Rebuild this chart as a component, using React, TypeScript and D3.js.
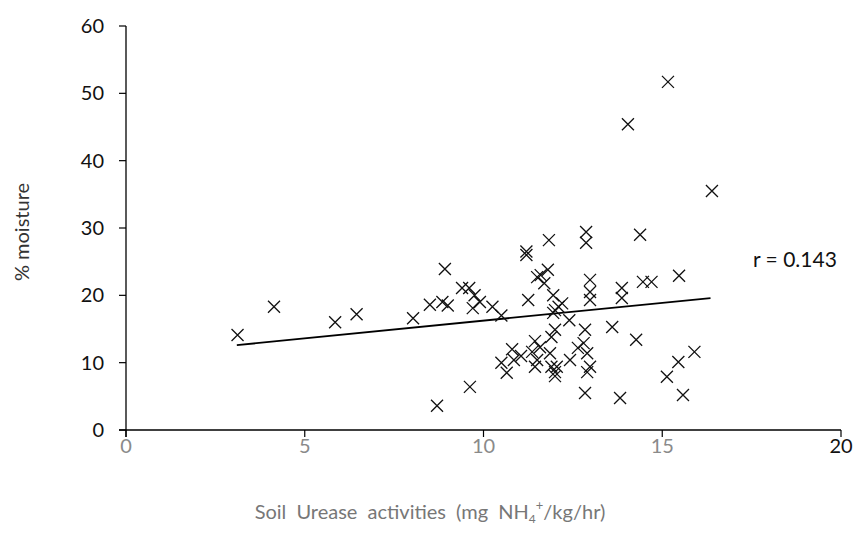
import React from "react";
import * as d3 from "d3";

const pointsX = [3.12, 4.14, 5.85, 6.45, 8.03, 8.5, 8.85, 9.0, 8.92, 9.4, 9.6, 9.75, 9.7, 9.9, 10.25, 10.5, 8.7, 9.62, 10.8, 10.5, 10.65, 10.85, 11.05, 11.2, 11.2, 11.25, 11.44, 11.58, 11.36, 11.5, 11.44, 11.86, 11.9, 12.0, 11.9, 12.0, 11.83, 11.6, 11.8, 11.7, 11.95, 12.0, 12.1, 12.4, 11.95, 12.87, 12.87, 12.98, 12.98, 12.98, 13.87, 13.87, 12.84, 13.6, 12.8, 12.64, 12.9, 12.42, 12.98, 12.9, 12.05, 12.0, 12.84, 13.82, 14.38, 14.46, 14.7, 15.47, 14.27, 15.9, 15.45, 15.13, 15.58, 15.16, 14.04, 16.39, 11.5, 12.2];
const pointsY = [14.1, 18.3, 16.0, 17.2, 16.6, 18.6, 19.0, 18.5, 23.9, 21.1, 21.1, 20.0, 18.1, 19.0, 18.3, 17.0, 3.6, 6.4, 12.0, 10.0, 8.5, 10.4, 11.0, 26.0, 26.5, 19.3, 13.2, 12.3, 11.6, 10.4, 9.4, 11.4, 13.8, 8.6, 9.4, 14.9, 28.2, 23.0, 23.8, 21.8, 20.0, 17.8, 18.3, 16.3, 17.4, 29.4, 27.8, 22.3, 20.5, 19.3, 21.1, 19.6, 14.9, 15.3, 12.9, 12.2, 11.4, 10.4, 9.4, 8.6, 9.4, 8.0, 5.5, 4.75, 29.0, 22.0, 22.0, 22.9, 13.4, 11.6, 10.1, 7.9, 5.2, 51.7, 45.4, 35.5, 22.7, 18.8];

const trendX = [3.1, 16.35];
const trendY = [12.6, 19.6];

const xTicks = [0, 5, 10, 15, 20];
const yTicks = [0, 10, 20, 30, 40, 50, 60];
const rLabel = "r = 0.143";

export default function App() {
  const W = 859, H = 545;
  const x = d3.scaleLinear().domain([0, 20]).range([126, 841]);
  const y = d3.scaleLinear().domain([0, 60]).range([430, 26]);
  const line = d3.line<number>().x((_, i) => x(trendX[i])).y((_, i) => y(trendY[i]));
  const font = "Lato, 'Open Sans', sans-serif";
  const s = 6;
  return (
    <svg width={W} height={H} style={{ position: "absolute", left: 0, top: 0, background: "#fff" }} fontFamily={font}>
      <rect x={0} y={0} width={W} height={H} fill="#fff" />
      <line x1={x(0)} x2={x(0)} y1={y(60)} y2={y(0) + 7} stroke="#000" strokeWidth={1.3} />
      <line x1={x(0) - 7} x2={x(20)} y1={y(0)} y2={y(0)} stroke="#000" strokeWidth={1.3} />
      {yTicks.map((t) => (
        <g key={"y" + t}>
          <line x1={x(0) - 7} x2={x(0)} y1={y(t)} y2={y(t)} stroke="#000" strokeWidth={1.2} />
          <text x={104} y={y(t)} dy="0.35em" textAnchor="end" fontSize={20} fill="#111">{t}</text>
        </g>
      ))}
      {xTicks.map((t) => (
        <g key={"x" + t}>
          <line x1={x(t)} x2={x(t)} y1={y(0)} y2={y(0) + 7} stroke="#000" strokeWidth={1.2} />
          <text x={x(t)} y={453} textAnchor="middle" fontSize={20} fill={t === 20 ? "#111" : "#8a8a8a"}>{t}</text>
        </g>
      ))}
      <path d={line(trendX) || ""} fill="none" stroke="#000" strokeWidth={1.8} />
      {pointsX.map((px, i) => {
        const cx = x(px), cy = y(pointsY[i]);
        return (
          <path key={i} d={`M${cx - s},${cy - s}L${cx + s},${cy + s}M${cx - s},${cy + s}L${cx + s},${cy - s}`} stroke="#111" strokeWidth={1.3} fill="none" />
        );
      })}
      <text x={753} y={260} dy="0.35em" fontSize={21} fill="#111">{rLabel}</text>
      <text x={430} y={519} textAnchor="middle" fontSize={20} fill="#777" wordSpacing={5}>
        Soil Urease activities (mg NH<tspan fontSize={12} dy={4}>4</tspan><tspan fontSize={13} dy={-13}>+</tspan><tspan dy={9}>/kg/hr)</tspan>
      </text>
      <text transform={`translate(29,232) rotate(-90)`} textAnchor="middle" fontSize={20} fill="#333">% moisture</text>
    </svg>
  );
}
